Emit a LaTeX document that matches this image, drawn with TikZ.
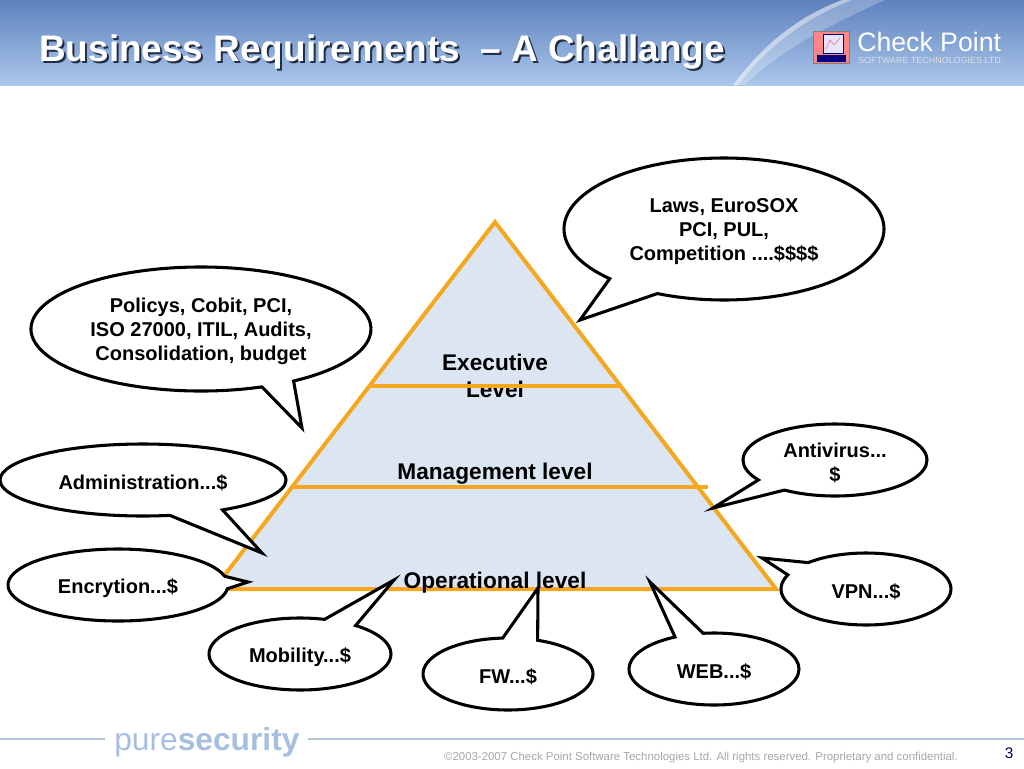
\documentclass[tikz,border=0pt]{standalone}
\usepackage{fontspec}
\usepackage{xcolor}
\usepackage{tikz}
\usetikzlibrary{shapes.callouts,shadings}
\setmainfont{Liberation Sans}
\definecolor{pyrfill}{HTML}{DCE6F2}
\definecolor{pyrline}{HTML}{F5A81F}
\definecolor{footline}{HTML}{B3C6D9}
\definecolor{footblue}{HTML}{A6BEE0}
\definecolor{headtop}{HTML}{5E82BE}
\definecolor{headbot}{HTML}{AAC6EA}
\tikzset{bubble node/.style 2 args={ellipse callout,draw=black,fill=white,line width=2.3pt,inner sep=0pt,
            minimum width=#1*0.75pt,minimum height=#2*0.75pt},
         bubble text/.style={align=center,inner sep=0pt,yshift=-2pt,font=\fontsize{15}{18}\selectfont\bfseries},
         level node/.style={align=center,font=\fontsize{17}{20.5}\selectfont\bfseries},
         level line/.style={draw=pyrline,line width=3pt},
         title node/.style={anchor=west,inner sep=0pt,font=\fontsize{27.7}{30}\selectfont\bfseries},
            }
\begin{document}
\begin{tikzpicture}[x=0.75pt,y=-0.75pt]
	\useasboundingbox (0,0) rectangle (1024,768);
	% header
	\shade[top color=headtop,bottom color=headbot] (0,0) rectangle (1024,85);
	\fill[white,opacity=0.55] (733,85) .. controls (760,50) and (790,20) .. (842,0) -- (852,0) .. controls (800,20) and (765,50) .. (738,85) -- cycle;
	\fill[white,opacity=0.25] (738,85) .. controls (765,50) and (800,20) .. (852,0) -- (885,0) .. controls (830,25) and (780,50) .. (745,85) -- cycle;
	\node[title node,text=headtop!35!black] (titleshadow) at (41,54) {Business Requirements\ \ -- A Challange};
	\node[title node,text=white] (title) at (39,52) {Business Requirements\ \ -- A Challange};
	% logo
	\fill[fill=pink!70!red,draw=gray] (813,31) rectangle (849,63);
	\fill[white!90!blue,draw=blue!50!black] (823,34) rectangle (843,53);
	\draw[pink!70!red,line width=0.6pt] (826,49) -- (830,40) -- (834,45) -- (840,38);
	\fill[blue!50!black] (817,55) rectangle (846,62);
	\node[text=white,font=\fontsize{20}{24}\selectfont,anchor=west,inner sep=0pt] (brand) at (857,42) {Check Point};
	\node[text=white!75!gray,font=\fontsize{6.7}{8}\selectfont,anchor=west,inner sep=0pt] (brandsub) at (858,60) {SOFTWARE TECHNOLOGIES LTD.};
	% pyramid
	\coordinate (top) at (495,222);
	\coordinate (left) at (214,589);
	\coordinate (right) at (776,589);
	\fill[pyrfill] (top) -- (right) -- (left) -- cycle;
	\node[level node] (exec) at (495,376) {Executive\\Level};
	\node[level node] (mgmt) at (495,474) {Management level};
	\draw[level line] (top) -- (right) -- (left) -- cycle;
	\coordinate (execl) at (369,386);
	\coordinate (execr) at (620,386);
	\coordinate (mgmtl) at (291,487);
	\coordinate (mgmtr) at (708,487);
	\draw[level line] (execl) -- (execr);
	\draw[level line] (mgmtl) -- (mgmtr);
	\node[level node] (oper) at (495,583) {Operational level};
	% bubbles
	\node[bubble node={320}{142},callout pointer arc=21,callout absolute pointer={(580,320)},label={[bubble text]center:{Laws, EuroSOX\\PCI, PUL,\\Competition ....\$\$\$\$}}] (laws) at (724,229) {};
	\coordinate (policystail) at (302,428);
	\draw[draw=black,fill=white,line width=2.3pt] ([shift={(69:170 and 62)}]201,329) arc[start angle=69,delta angle=348,x radius=170,y radius=62] -- (policystail) -- cycle;
	\node[bubble text] (policys) at (201,329) {Policys, Cobit, PCI,\\ISO 27000, ITIL, Audits,\\Consolidation, budget};
	\node[bubble node={286}{72},callout pointer arc=23,callout absolute pointer={(262,553)},label={[bubble text]center:{Administration...\$}}] (admin) at (143,480) {};
	\node[bubble node={220}{72},callout pointer arc=20,callout absolute pointer={(248,582)},label={[bubble text]center:{Encrytion...\$}}] (encr) at (118,585) {};
	\node[bubble node={182}{72},callout pointer arc=22,callout absolute pointer={(394,580)},label={[bubble text]center:{Mobility...\$}}] (mobil) at (300,654) {};
	\node[bubble node={170}{72},callout pointer arc=24,callout absolute pointer={(538,588)},label={[bubble text]center:{FW...\$}}] (fw) at (508,674) {};
	\node[bubble node={170}{72},callout pointer arc=20,callout absolute pointer={(650,582)},label={[bubble text]center:{WEB...\$}}] (web) at (714,669) {};
	\node[bubble node={170}{72},callout pointer arc=24,callout absolute pointer={(762,558)},label={[bubble text]center:{VPN...\$}}] (vpn) at (866,589) {};
	\node[bubble node={184}{72},callout pointer arc=23,callout absolute pointer={(713,508)},label={[bubble text]center:{Antivirus...\\\$}}] (antiv) at (835,460) {};
	% footer
	\coordinate (foota) at (0,739);
	\coordinate (footb) at (105,739);
	\coordinate (footc) at (308,739);
	\coordinate (footd) at (1024,739);
	\draw[footline,line width=1pt] (foota) -- (footb);
	\draw[footline,line width=1pt] (footc) -- (footd);
	\node[text=footblue,anchor=west,inner sep=0pt,font=\fontsize{23.8}{28}\selectfont] (pure) at (114,742) {pure\textbf{security}};
	\node[text=black!35,anchor=east,inner sep=0pt,font=\fontsize{8.57}{10}\selectfont] (copy) at (958,758) {©2003-2007 Check Point Software Technologies Ltd. All rights reserved. Proprietary and confidential.};
	\node[text=blue!40!black,inner sep=0pt,font=\fontsize{11.5}{14}\selectfont] (page) at (1009,753) {3};
\end{tikzpicture}
\end{document}
